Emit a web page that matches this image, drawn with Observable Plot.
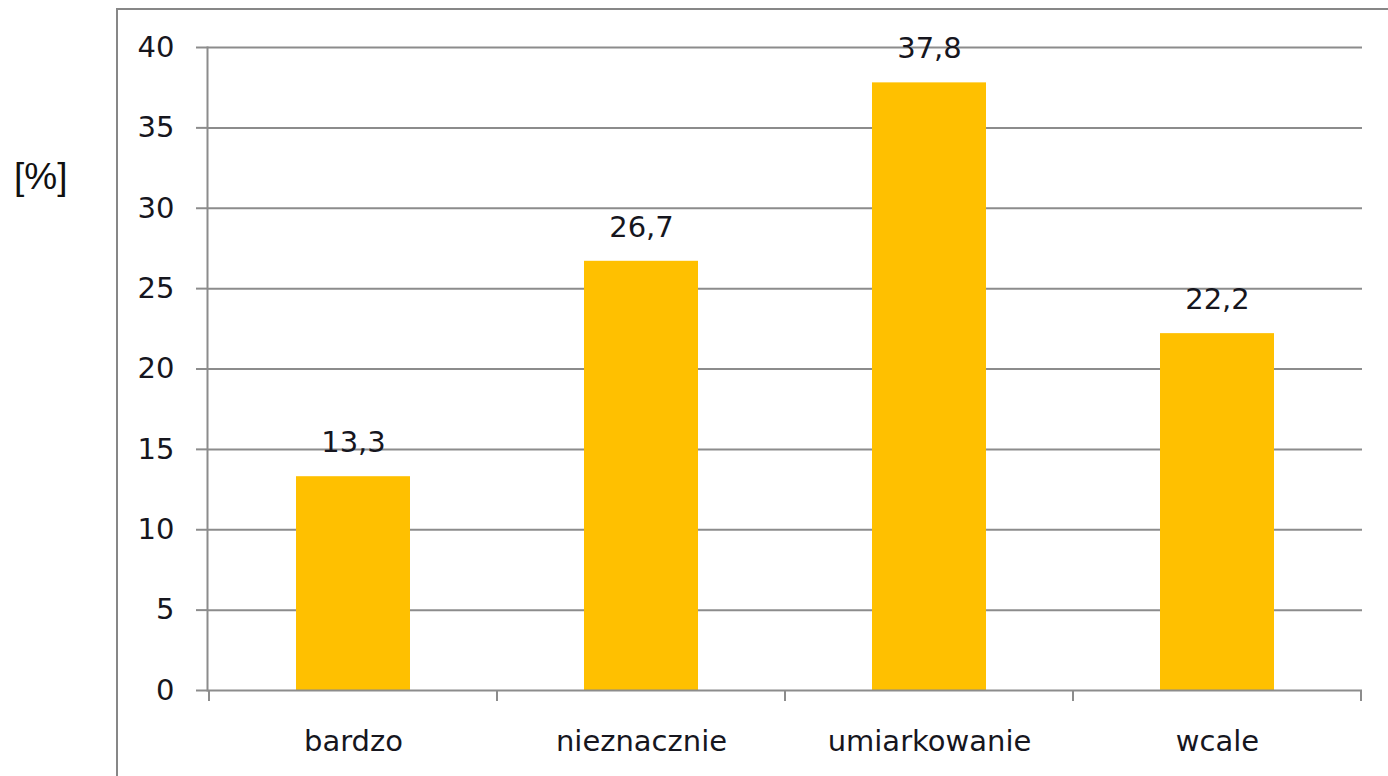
<!DOCTYPE html>
<html>
<head>
<meta charset="utf-8">
<script src="https://cdn.jsdelivr.net/npm/d3@7"></script>
<script src="https://cdn.jsdelivr.net/npm/@observablehq/plot@0.6"></script>
<style>
  html, body { margin: 0; padding: 0; background: #fff; }
  body { width: 1388px; height: 776px; overflow: hidden; position: relative; }
  #frame { position: absolute; left: 116px; top: 8px; width: 1400px; height: 900px; border: 2px solid #878787; box-sizing: border-box; }
  #ylab { position: absolute; left: 14px; top: 158px; font-family: "Liberation Sans", Arial, sans-serif; font-size: 37px; color: #111; line-height: 1; }
  #chart { position: absolute; left: 0; top: 0; }
</style>
</head>
<body>
<div id="frame"></div>
<div id="ylab">[%]</div>
<div id="chart"></div>
<script>
const categories = ["bardzo", "nieznacznie", "umiarkowanie", "wcale"];
const values = [13.3, 26.7, 37.8, 22.2];
const yTicks = [0, 5, 10, 15, 20, 25, 30, 35, 40];

const data = categories.map((c, i) => ({category: c, value: values[i]}));
const fmt = v => v.toFixed(1).replace(".", ",");
const gridColor = "#8c8c8c";
const textColor = "#16161e";

function boundaryTicks(index, scales, vals, dims) {
  const x = scales.x;
  const bw = x.bandwidth ? x.bandwidth() : 0;
  const centers = categories.map(c => x(c) + bw / 2);
  const step = centers.length > 1 ? centers[1] - centers[0] : bw;
  const bounds = [centers[0] - step / 2, ...centers.map(c => c + step / 2)];
  const y0 = dims.height - dims.marginBottom;
  const g = d3.create("svg:g").attr("stroke", gridColor).attr("stroke-width", 2);
  for (const b of bounds) {
    g.append("line").attr("x1", b).attr("x2", b).attr("y1", y0).attr("y2", y0 + 11);
  }
  return g.node();
}

const chart = Plot.plot({
  width: 1388,
  height: 776,
  marginLeft: 207,
  marginRight: 26,
  marginTop: 47,
  marginBottom: 86,
  style: {fontFamily: "DejaVu Sans, Verdana, sans-serif", color: textColor, background: "transparent"},
  x: {domain: categories, paddingInner: 0.605, paddingOuter: 0.3025, axis: null},
  y: {domain: [0, 40], axis: null},
  marks: [
    Plot.ruleY(yTicks.filter(t => t > 0), {stroke: gridColor, strokeWidth: 2}),
    Plot.axisY({ticks: yTicks, tickSize: 11, tickPadding: 22, fontSize: 29, stroke: gridColor, strokeWidth: 2, fill: textColor, tickFormat: d => String(d), label: null}),
    Plot.barY(data, {x: "category", y: "value", fill: "#FFC000"}),
    Plot.ruleY([0], {stroke: gridColor, strokeWidth: 2}),
    Plot.frame({anchor: "left", stroke: gridColor, strokeWidth: 2}),
    boundaryTicks,
    Plot.text(data, {x: "category", y: "value", text: d => fmt(d.value), dy: -34, fontSize: 29, fill: textColor}),
    Plot.axisX({tickSize: 0, tickPadding: 40, fontSize: 29, fill: textColor, label: null})
  ]
});
document.getElementById("chart").appendChild(chart);
</script>
</body>
</html>
